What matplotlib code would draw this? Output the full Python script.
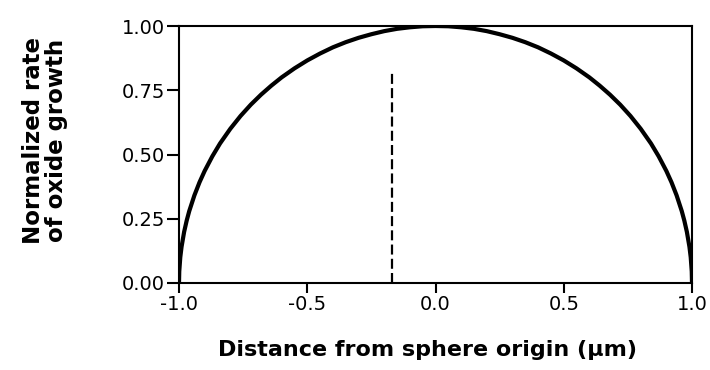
import matplotlib
matplotlib.use("Agg")
import matplotlib.pyplot as plt

# curve (normalized oxide growth rate vs distance)
distance = [-1.000, -0.999, -0.995, -0.99, -0.98, -0.97, -0.96, -0.94, -0.92, -0.90,
            -0.87, -0.84, -0.80, -0.76, -0.72, -0.68, -0.64, -0.60, -0.55, -0.50,
            -0.45, -0.40, -0.35, -0.30, -0.25, -0.20, -0.15, -0.10, -0.05, 0.00,
            0.05, 0.10, 0.15, 0.20, 0.25, 0.30, 0.35, 0.40, 0.45, 0.50,
            0.55, 0.60, 0.64, 0.68, 0.72, 0.76, 0.80, 0.84, 0.87, 0.90,
            0.92, 0.94, 0.96, 0.97, 0.98, 0.99, 0.995, 0.999, 1.000]
rate = [0.000, 0.045, 0.100, 0.141, 0.199, 0.243, 0.280, 0.341, 0.392, 0.436,
        0.493, 0.543, 0.600, 0.650, 0.694, 0.733, 0.768, 0.800, 0.835, 0.866,
        0.893, 0.917, 0.937, 0.954, 0.968, 0.980, 0.989, 0.995, 0.999, 1.000,
        0.999, 0.995, 0.989, 0.980, 0.968, 0.954, 0.937, 0.917, 0.893, 0.866,
        0.835, 0.800, 0.768, 0.733, 0.694, 0.650, 0.600, 0.543, 0.493, 0.436,
        0.392, 0.341, 0.280, 0.243, 0.199, 0.141, 0.100, 0.045, 0.000]

# dashed marker line
marker_x = [-0.17, -0.17]
marker_y = [0.0, 0.83]

x_ticks = [-1.0, -0.5, 0.0, 0.5, 1.0]
y_ticks = [0.00, 0.25, 0.50, 0.75, 1.00]

plt.rcParams['font.family'] = ['DejaVu Sans']

fig = plt.figure(figsize=(7.1, 3.7), dpi=100, facecolor='white')
ax = fig.add_axes([179 / 710, 87 / 370, 513 / 710, 257 / 370])

ax.plot(distance, rate, color='black', lw=3.0, solid_capstyle='butt')
ax.plot(marker_x, marker_y, color='black', lw=1.6, linestyle=(0, (4.5, 1.9)))

ax.set_xlim(-1.0, 1.0)
ax.set_ylim(0.0, 1.0)
ax.set_xticks(x_ticks)
ax.set_xticklabels([f"{v:.1f}" for v in x_ticks])
ax.set_yticks(y_ticks)
ax.set_yticklabels([f"{v:.2f}" for v in y_ticks])

for s in ax.spines.values():
    s.set_linewidth(1.5)
ax.tick_params(axis='y', direction='out', length=8.5, width=1.5, labelsize=14, pad=1.5)
ax.tick_params(axis='x', direction='out', length=7.5, width=1.5, labelsize=14, pad=1.5)

fig.text(428 / 710, 1 - 350 / 370, "Distance from sphere origin (\u03bcm)",
         ha='center', va='center', fontsize=16, fontweight='bold')
fig.text(45 / 710, 1 - 140 / 370, "Normalized rate\nof oxide growth", rotation=90,
         ha='center', va='center', multialignment='center',
         fontsize=16.5, fontweight='bold', linespacing=1.05)

fig.savefig("out.png", dpi=100, facecolor='white')
